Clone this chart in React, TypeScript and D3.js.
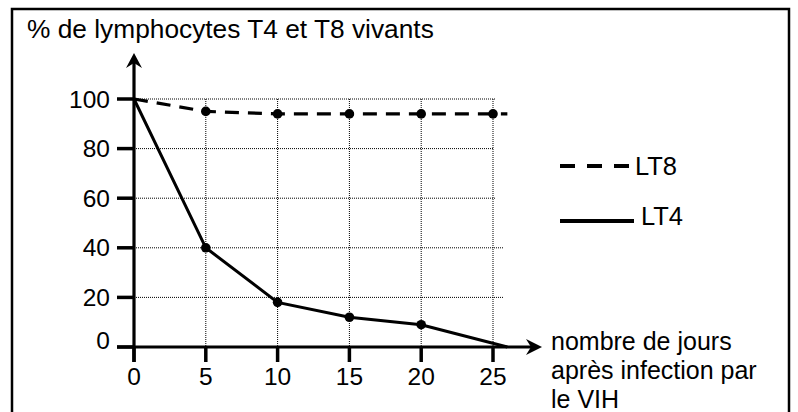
import React from "react";
import * as d3 from "d3";

const xTicks = [0, 5, 10, 15, 20, 25];
const yTicks = [0, 20, 40, 60, 80, 100];
const lt4Days = [0, 5, 10, 15, 20, 26];
const lt4Values = [100, 40, 18, 12, 9, 0];
const lt4DotDays = [5, 10, 15, 20];
const lt8Days = [0, 5, 10, 15, 20, 25, 26];
const lt8Values = [100, 95, 94, 94, 94, 94, 94];
const lt8DotDays = [5, 10, 15, 20, 25];
const title = "% de lymphocytes T4 et T8 vivants";
const xLabel = ["nombre de jours", "après infection par", "le VIH"];
const legend = [
  { name: "LT8", dashed: true },
  { name: "LT4", dashed: false },
];

const FONT = "'Liberation Sans', Arial, sans-serif";

export default function App() {
  const x = d3.scaleLinear().domain([0, 25]).range([134, 493]);
  const y = d3.scaleLinear().domain([0, 100]).range([347, 99]);
  const line = d3
    .line<[number, number]>()
    .x((d) => x(d[0]))
    .y((d) => y(d[1]));
  const lt4 = lt4Days.map((d, i) => [d, lt4Values[i]] as [number, number]);
  const lt8 = lt8Days.map((d, i) => [d, lt8Values[i]] as [number, number]);
  const x0 = x(0);
  const y0 = y(0);
  const gridRight = [0, 503, 503, 496, 493, 495];

  return (
    <svg
      width={798}
      height={412}
      style={{ position: "absolute", left: 0, top: 0, background: "#fff" }}
      fontFamily={FONT}
    >
      <rect x={12} y={9} width={777} height={420} fill="#fff" stroke="#000" strokeWidth={2.5} />
      <text x={27} y={38} fontSize={26.3}>
        {title}
      </text>

      {/* grid */}
      {yTicks
        .filter((t) => t > 0)
        .map((t, i) => (
          <line
            key={"gy" + t}
            x1={x0}
            x2={gridRight[i + 1]}
            y1={y(t)}
            y2={y(t)}
            stroke="#000"
            strokeWidth={1}
            strokeDasharray="1 1"
          />
        ))}
      {xTicks
        .filter((t) => t > 0)
        .map((t) => (
          <line
            key={"gx" + t}
            x1={x(t)}
            x2={x(t)}
            y1={y(100)}
            y2={y0}
            stroke="#000"
            strokeWidth={1}
            strokeDasharray="1 1"
          />
        ))}

      {/* axes */}
      <line x1={117} x2={533} y1={y0} y2={y0} stroke="#000" strokeWidth={3.2} />
      <path d={`M542,${y0} L526,${y0 - 8} L531,${y0} L526,${y0 + 8} Z`} fill="#000" />
      <line x1={x0} x2={x0} y1={362} y2={62} stroke="#000" strokeWidth={3.2} />
      <path d={`M${x0},53 L${x0 - 8},68 L${x0},63 L${x0 + 8},68 Z`} fill="#000" />

      {yTicks.map((t) => (
        <g key={"yt" + t}>
          <line x1={117} x2={x0} y1={y(t)} y2={y(t)} stroke="#000" strokeWidth={3.5} />
          <text
            x={110}
            y={y(t) - (t === 0 ? 7 : 0)}
            fontSize={24.5}
            textAnchor="end"
            dominantBaseline="central"
          >
            {t}
          </text>
        </g>
      ))}
      {xTicks.map((t) => (
        <g key={"xt" + t}>
          <line x1={x(t)} x2={x(t)} y1={y0} y2={362} stroke="#000" strokeWidth={3.5} />
          <text x={x(t)} y={385} fontSize={24.5} textAnchor="middle">
            {t}
          </text>
        </g>
      ))}

      {xLabel.map((s, i) => (
        <text key={s} x={551} y={350 + i * 29} fontSize={25}>
          {s}
        </text>
      ))}

      {/* series */}
      <path d={line(lt8) || ""} fill="none" stroke="#000" strokeWidth={3.2} strokeDasharray="14 9" />
      {lt8DotDays.map((d) => (
        <circle key={"d8" + d} cx={x(d)} cy={y(lt8Values[lt8Days.indexOf(d)])} r={4.8} fill="#000" />
      ))}
      <path d={line(lt4) || ""} fill="none" stroke="#000" strokeWidth={3} />
      {lt4DotDays.map((d) => (
        <circle key={"d4" + d} cx={x(d)} cy={y(lt4Values[lt4Days.indexOf(d)])} r={4.8} fill="#000" />
      ))}

      {/* legend */}
      {legend.map((l, i) => (
        <g key={l.name}>
          <line
            x1={560}
            x2={l.dashed ? 632 : 634}
            y1={166 + i * 55}
            y2={166 + i * 55}
            stroke="#000"
            strokeWidth={4}
            strokeDasharray={l.dashed ? "15 12" : undefined}
          />
          <text x={l.dashed ? 635 : 641} y={175 + i * 50} fontSize={25.5}>
            {l.name}
          </text>
        </g>
      ))}
    </svg>
  );
}
